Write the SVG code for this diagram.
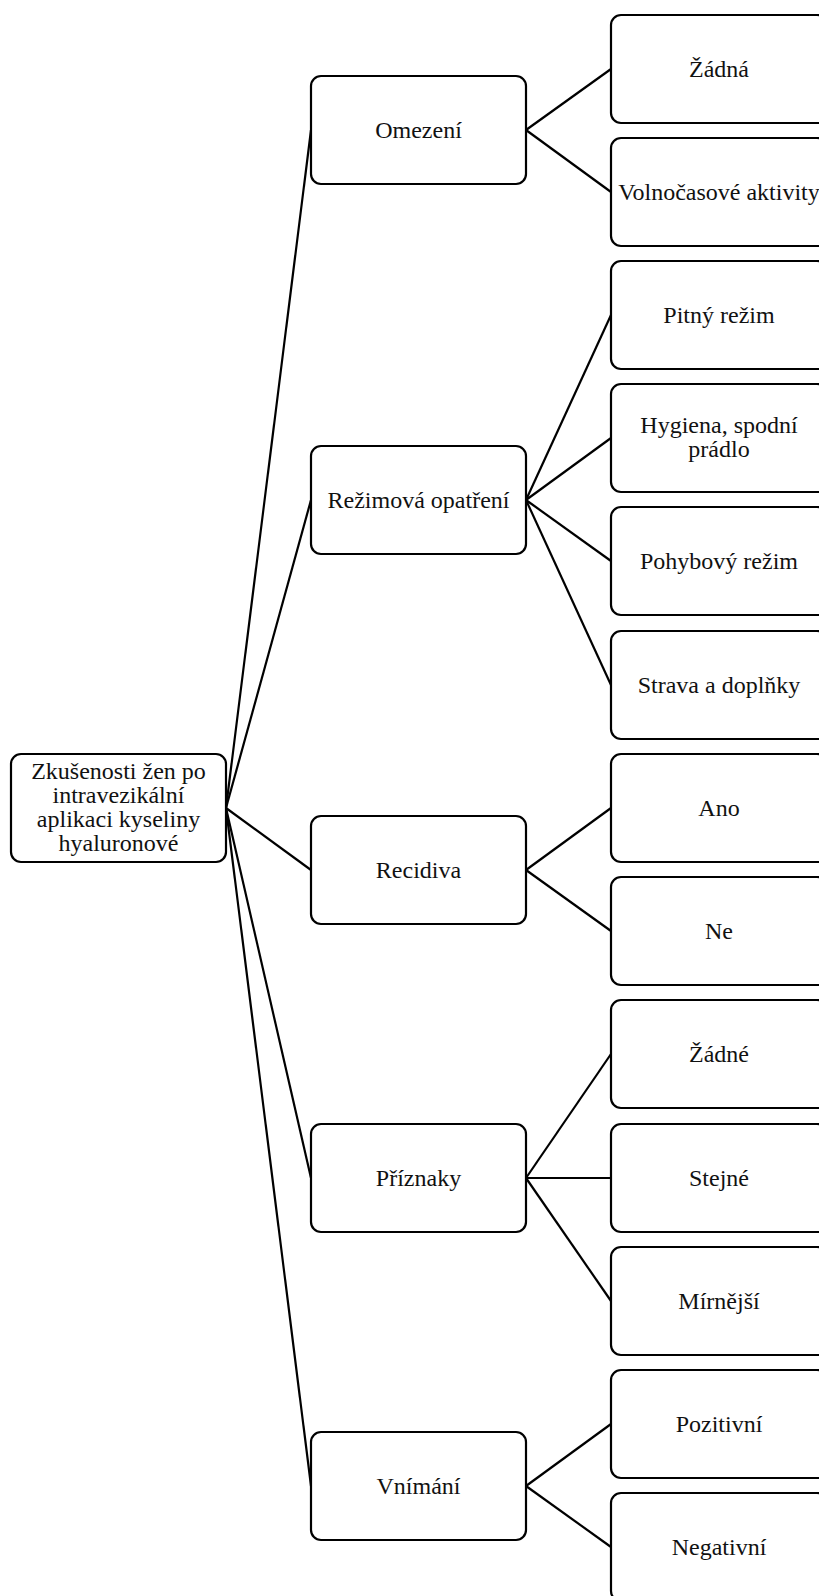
<svg xmlns="http://www.w3.org/2000/svg" width="819" height="1596" viewBox="0 0 819 1596">
<style>
.box{fill:#fff;stroke:#000;stroke-width:2.2}
.t{font-family:"Liberation Serif","Times New Roman",serif;font-size:24px;fill:#111;text-anchor:middle}
.c line{stroke:#000;stroke-width:2.2}
</style>
<rect width="819" height="1596" fill="#fff"/>
<g class="c" id="connectors">
<line x1="226" y1="808" x2="311" y2="130"/>
<line x1="226" y1="808" x2="311" y2="500"/>
<line x1="226" y1="808" x2="311" y2="870"/>
<line x1="226" y1="808" x2="311" y2="1178"/>
<line x1="226" y1="808" x2="311" y2="1486"/>
<line x1="526" y1="130" x2="611" y2="69"/>
<line x1="526" y1="130" x2="611" y2="192"/>
<line x1="526" y1="500" x2="611" y2="315"/>
<line x1="526" y1="500" x2="611" y2="438"/>
<line x1="526" y1="500" x2="611" y2="561"/>
<line x1="526" y1="500" x2="611" y2="685"/>
<line x1="526" y1="870" x2="611" y2="808"/>
<line x1="526" y1="870" x2="611" y2="931"/>
<line x1="526" y1="1178" x2="611" y2="1054"/>
<line x1="526" y1="1178" x2="611" y2="1178"/>
<line x1="526" y1="1178" x2="611" y2="1301"/>
<line x1="526" y1="1486" x2="611" y2="1424"/>
<line x1="526" y1="1486" x2="611" y2="1547"/>
</g>
<g id="root"><rect class="box" x="11" y="754" width="215" height="108" rx="10"/>
<text class="t" x="118.5" y="779">Zkušenosti žen po</text><text class="t" x="118.5" y="803">intravezikální</text><text class="t" x="118.5" y="827">aplikaci kyseliny</text><text class="t" x="118.5" y="851">hyaluronové</text></g>
<g id="omezeni"><rect class="box" x="311" y="76" width="215" height="108" rx="10"/><text class="t" x="418.5" y="138">Omezení</text></g>
<g id="rezimova"><rect class="box" x="311" y="446" width="215" height="108" rx="10"/><text class="t" x="418.5" y="508">Režimová opatření</text></g>
<g id="recidiva"><rect class="box" x="311" y="816" width="215" height="108" rx="10"/><text class="t" x="418.5" y="878">Recidiva</text></g>
<g id="priznaky"><rect class="box" x="311" y="1124" width="215" height="108" rx="10"/><text class="t" x="418.5" y="1186">Příznaky</text></g>
<g id="vnimani"><rect class="box" x="311" y="1432" width="215" height="108" rx="10"/><text class="t" x="418.5" y="1494">Vnímání</text></g>
<g id="zadna"><rect class="box" x="611" y="15" width="216" height="108" rx="10"/><text class="t" x="719" y="77">Žádná</text></g>
<g id="volnocasove"><rect class="box" x="611" y="138" width="216" height="108" rx="10"/><text class="t" x="719" y="200">Volnočasové aktivity</text></g>
<g id="pitny"><rect class="box" x="611" y="261" width="216" height="108" rx="10"/><text class="t" x="719" y="323">Pitný režim</text></g>
<g id="hygiena"><rect class="box" x="611" y="384" width="216" height="108" rx="10"/><text class="t" x="719" y="433">Hygiena, spodní</text><text class="t" x="719" y="457">prádlo</text></g>
<g id="pohybovy"><rect class="box" x="611" y="507" width="216" height="108" rx="10"/><text class="t" x="719" y="569">Pohybový režim</text></g>
<g id="strava"><rect class="box" x="611" y="631" width="216" height="108" rx="10"/><text class="t" x="719" y="693">Strava a doplňky</text></g>
<g id="ano"><rect class="box" x="611" y="754" width="216" height="108" rx="10"/><text class="t" x="719" y="816">Ano</text></g>
<g id="ne"><rect class="box" x="611" y="877" width="216" height="108" rx="10"/><text class="t" x="719" y="939">Ne</text></g>
<g id="zadne"><rect class="box" x="611" y="1000" width="216" height="108" rx="10"/><text class="t" x="719" y="1062">Žádné</text></g>
<g id="stejne"><rect class="box" x="611" y="1124" width="216" height="108" rx="10"/><text class="t" x="719" y="1186">Stejné</text></g>
<g id="mirnejsi"><rect class="box" x="611" y="1247" width="216" height="108" rx="10"/><text class="t" x="719" y="1309">Mírnější</text></g>
<g id="pozitivni"><rect class="box" x="611" y="1370" width="216" height="108" rx="10"/><text class="t" x="719" y="1432">Pozitivní</text></g>
<g id="negativni"><rect class="box" x="611" y="1493" width="216" height="108" rx="10"/><text class="t" x="719" y="1555">Negativní</text></g>
</svg>
